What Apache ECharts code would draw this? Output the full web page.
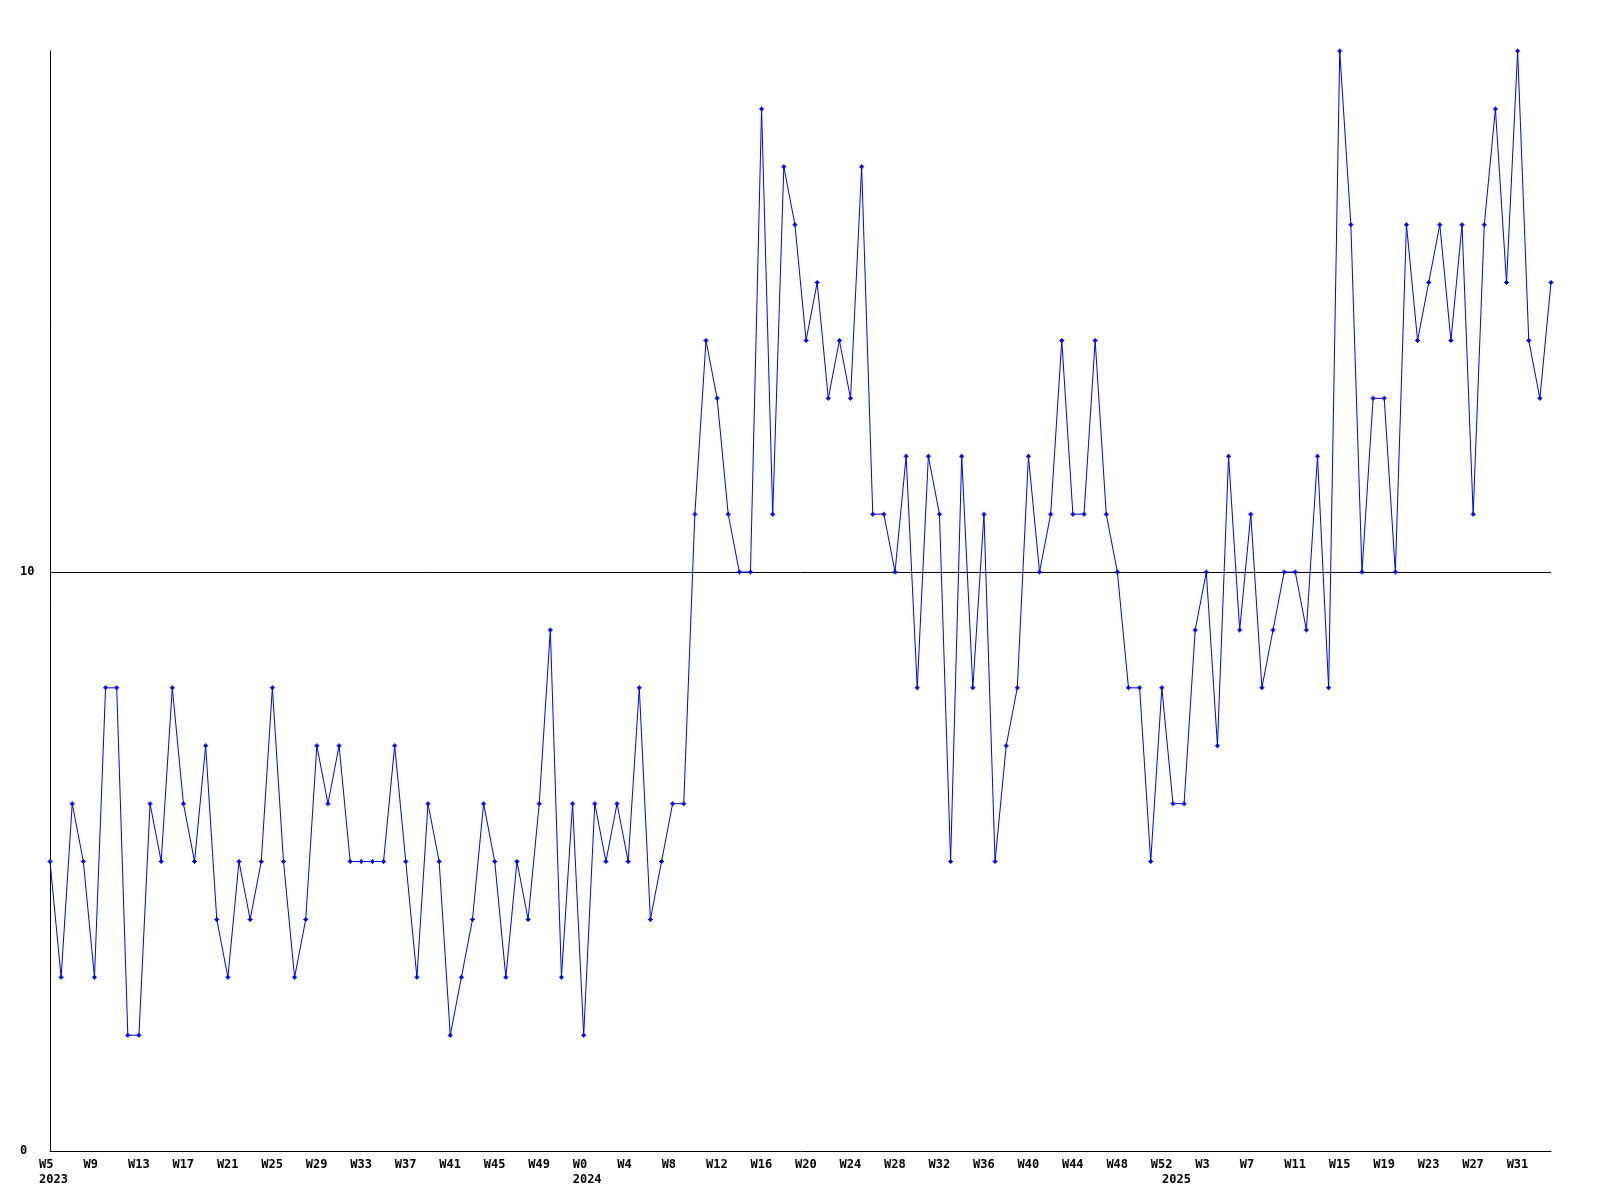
<!DOCTYPE html>
<html>
<head>
<meta charset="utf-8">
<script src="https://cdn.jsdelivr.net/npm/echarts@6/dist/echarts.min.js"></script>
<style>
html,body{margin:0;padding:0;background:#fff;}
#chart{width:1600px;height:1200px;}
</style>
</head>
<body>
<div id="chart"></div>
<script>
// Week categories (year-week)
const categories = [
"2023-W5","2023-W6","2023-W7","2023-W8","2023-W9","2023-W10","2023-W11","2023-W12","2023-W13","2023-W14",
"2023-W15","2023-W16","2023-W17","2023-W18","2023-W19","2023-W20","2023-W21","2023-W22","2023-W23","2023-W24",
"2023-W25","2023-W26","2023-W27","2023-W28","2023-W29","2023-W30","2023-W31","2023-W32","2023-W33","2023-W34",
"2023-W35","2023-W36","2023-W37","2023-W38","2023-W39","2023-W40","2023-W41","2023-W42","2023-W43","2023-W44",
"2023-W45","2023-W46","2023-W47","2023-W48","2023-W49","2023-W50","2023-W51","2023-W52",
"2024-W0","2024-W1","2024-W2","2024-W3","2024-W4","2024-W5","2024-W6","2024-W7","2024-W8","2024-W9",
"2024-W10","2024-W11","2024-W12","2024-W13","2024-W14","2024-W15","2024-W16","2024-W17","2024-W18","2024-W19",
"2024-W20","2024-W21","2024-W22","2024-W23","2024-W24","2024-W25","2024-W26","2024-W27","2024-W28","2024-W29",
"2024-W30","2024-W31","2024-W32","2024-W33","2024-W34","2024-W35","2024-W36","2024-W37","2024-W38","2024-W39",
"2024-W40","2024-W41","2024-W42","2024-W43","2024-W44","2024-W45","2024-W46","2024-W47","2024-W48","2024-W49",
"2024-W50","2024-W51","2024-W52",
"2025-W0","2025-W1","2025-W2","2025-W3","2025-W4","2025-W5","2025-W6","2025-W7","2025-W8","2025-W9",
"2025-W10","2025-W11","2025-W12","2025-W13","2025-W14","2025-W15","2025-W16","2025-W17","2025-W18","2025-W19",
"2025-W20","2025-W21","2025-W22","2025-W23","2025-W24","2025-W25","2025-W26","2025-W27","2025-W28","2025-W29",
"2025-W30","2025-W31","2025-W32","2025-W33","2025-W34"
];

// Weekly values
const values = [
5,3,6,5,3,8,8,2,2,6,5,8,6,5,7,4,3,5,4,5,8,5,3,4,7,6,7,5,5,5,5,7,5,3,6,5,2,3,4,6,5,3,5,4,6,9,3,
6,2,6,5,6,5,8,4,5,6,6,
11,14,13,11,10,10,18,11,17,16,14,15,13,14,13,17,11,11,10,12,8,12,11,5,12,8,11,5,7,8,
12,10,11,14,11,11,14,11,10,8,8,5,8,6,6,9,10,7,12,9,11,8,9,10,10,9,12,8,
19,16,10,13,13,10,16,14,15,16,14,16,11,16,18,15,19,14,13,15
];

const yMin = 0;
const yMax = 19;
const yInterval = 10;
const labelEvery = 4;

function isYearStart(idx) {
  return idx === 0 || categories[idx].split('-')[0] !== categories[idx - 1].split('-')[0];
}

const FONT = 'DejaVu Sans Mono';
const chart = echarts.init(document.getElementById('chart'), null, {renderer: 'canvas'});
chart.setOption({
  animation: false,
  backgroundColor: '#ffffff',
  grid: {left: 50, right: 49, top: 51, bottom: 49, containLabel: false},
  xAxis: {
    type: 'category',
    data: categories,
    boundaryGap: false,
    axisLine: {show: true, lineStyle: {color: '#000000', width: 1}},
    axisTick: {show: false},
    splitLine: {show: false},
    axisLabel: {
      interval: function (idx) { return idx % labelEvery === 0 || isYearStart(idx); },
      hideOverlap: false,
      align: 'left',
      padding: [0, 0, 0, -11],
      margin: 6,
      lineHeight: 15,
      fontFamily: FONT,
      fontWeight: 'bold',
      fontSize: 12,
      color: '#000000',
      formatter: function (val, idx) {
        const parts = val.split('-');
        const week = idx % labelEvery === 0 ? parts[1] : ' ';
        if (isYearStart(idx)) return week + '\n' + parts[0];
        return week;
      }
    }
  },
  yAxis: {
    type: 'value',
    min: yMin,
    max: yMax,
    interval: yInterval,
    axisLine: {show: true, lineStyle: {color: '#000000', width: 1}},
    axisTick: {show: false},
    axisLabel: {
      showMaxLabel: false,
      align: 'left',
      margin: 30,
      fontFamily: FONT,
      fontWeight: 'bold',
      fontSize: 12,
      color: '#000000'
    },
    splitLine: {show: true, showMinLine: false, showMaxLine: false, lineStyle: {color: '#000000', width: 1}}
  },
  series: [{
    type: 'line',
    data: values,
    showAllSymbol: true,
    symbol: 'path://M2,0L3,0L3,1L4,1L4,2L5,2L5,3L4,3L4,4L3,4L3,5L2,5L2,4L1,4L1,3L0,3L0,2L1,2L1,1L2,1Z',
    symbolSize: 5,
    itemStyle: {color: '#0000ff'},
    lineStyle: {color: '#0000ff', width: 1},
    clip: false
  }]
});
</script>
</body>
</html>
